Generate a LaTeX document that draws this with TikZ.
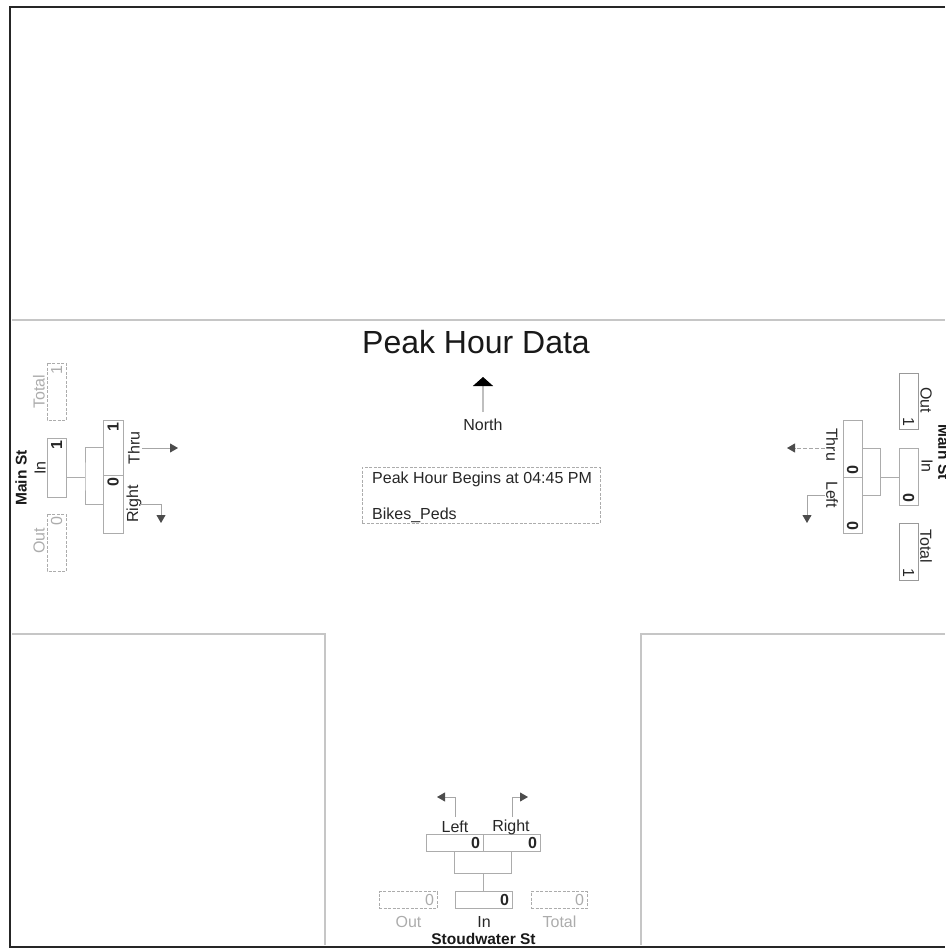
\documentclass[tikz,border=0pt]{standalone}
\usepackage{fontspec}
\setmainfont{Liberation Sans}
\usetikzlibrary{arrows.meta}
\begin{document}
\begin{tikzpicture}[x=1pt,y=-1pt,
  txt/.style={inner sep=0pt, font=\fontsize{16}{19}\selectfont, text=black!85},
  gtxt/.style={txt, text=gray!65},
  bname/.style={inner sep=0pt, font=\fontsize{15.5}{18}\selectfont\bfseries, text=black!90},
  vbox/.style={draw=gray!65, line width=0.8pt, inner xsep=3pt, inner ysep=0pt, minimum height=19pt, align=right, font=\fontsize{16}{19}\selectfont\bfseries, text=black!85},
  sbox/.style={vbox, draw=gray!80, font=\fontsize{16}{19}\selectfont},
  dbox/.style={vbox, dash pattern=on 3pt off 1.5pt, font=\fontsize{16}{19}\selectfont, text=gray!65},
  link/.style={draw=gray!65, line width=0.8pt},
  road/.style={draw=gray!45, line width=1.6pt},
  mv/.style={draw=gray!70, line width=0.8pt, -{Triangle[width=9pt,length=8pt,color=black!70]}}
]
\path[use as bounding box] (0,0) rectangle (945,949);
% roads
\draw[road] (12,320) -- (945,320);
\draw[road] (12,634) -- (325,634) -- (325,945);
\draw[road] (945,634) -- (641,634) -- (641,945);
% frame
\draw[line width=2.6pt, black!85] (945,7) -- (10,7) -- (10,947) -- (945,947);

% ---------- title, north, info ----------
\node[inner sep=0pt, font=\fontsize{32}{38}\selectfont, text=black!90] (title) at (476,342) {Peak Hour Data};
\coordinate (nfoot) at (483,412);
\coordinate (ntip) at (483,377);
\draw[draw=gray!50, line width=1.2pt, -{Triangle[width=20pt,length=9pt,color=black]}] (nfoot) -- (ntip);
\node[txt] (north) at (483,425) {North};
\node[draw=gray!65, dash pattern=on 3pt off 1.5pt, line width=0.7pt, minimum width=238pt, minimum height=56pt, inner sep=0pt] (info) at (481,495) {};
\node[txt, anchor=west] (begins) at (372,479) {Peak Hour Begins at 04:45 PM};
\node[txt, anchor=west] (bikes) at (372,515) {Bikes\_Peds};

% ---------- west approach (Main St, left) ----------
\node[dbox, rotate=90, text width=51pt] (LTot) at (56.5,391.5) {1};
\node[gtxt, rotate=90] (LTotL) at (39,392) {Total};
\node[vbox, rotate=90, text width=53pt] (LIn) at (56.5,467.5) {1};
\node[txt, rotate=90] (LInL) at (40,468) {In};
\node[bname, rotate=90] (LName) at (21,478) {Main St};
\node[dbox, rotate=90, text width=51pt] (LOut) at (56.5,542.5) {0};
\node[gtxt, rotate=90] (LOutL) at (39,541) {Out};
\node[vbox, rotate=90, text width=49pt, minimum height=20pt] (LThru) at (113,447.5) {1};
\node[vbox, rotate=90, text width=52pt, minimum height=20pt] (LRight) at (113,504) {0};
\node[txt, rotate=90] (LThruL) at (134,448) {Thru};
\node[txt, rotate=90] (LRightL) at (134,504) {Right};
\coordinate (Lj) at (85,477);
\draw[link] (LIn.south |- Lj) -- (Lj);
\draw[link] (LThru.north) -| (Lj) |- (LRight.north);
\coordinate (LThruEnd) at (178,448);
\draw[mv] (142,448) -- (LThruEnd);
\coordinate (LRightEnd) at (161,523);
\draw[mv] (140,504) -| (LRightEnd);

% ---------- east approach (Main St, right) ----------
\node[sbox, rotate=-90, text width=50pt] (ROut) at (908.5,401) {1};
\node[txt, rotate=-90] (ROutL) at (926,400) {Out};
\node[vbox, rotate=-90, text width=51pt] (RIn) at (908.5,476.5) {0};
\node[txt, rotate=-90] (RInL) at (927,466) {In};
\node[bname, rotate=-90] (RName) at (944,452) {Main St};
\node[sbox, rotate=-90, text width=51pt] (RTot) at (908.5,551.5) {1};
\node[txt, rotate=-90] (RTotL) at (926,546) {Total};
\node[vbox, rotate=-90, text width=51pt] (RThru) at (852.5,448.5) {0};
\node[vbox, rotate=-90, text width=50pt] (RLeft) at (852.5,505) {0};
\node[txt, rotate=-90] (RThruL) at (832,444.5) {Thru};
\node[txt, rotate=-90] (RLeftL) at (832,494.5) {Left};
\coordinate (Rj) at (880,477);
\coordinate (Rt) at (880,448.5);
\coordinate (Rb) at (880,495);
\draw[link] (Rj) -- (RIn.south |- Rj);
\draw[link] (RThru.north) -- (Rt) -- (Rb) -- (RLeft.north |- Rb);
\coordinate (RThruEnd) at (787,448);
\draw[mv, dash pattern=on 4pt off 2pt] (825,448) -- (RThruEnd);
\coordinate (RLeftEnd) at (807,523);
\draw[mv] (825,495) -| (RLeftEnd);

% ---------- south approach (Stoudwater St) ----------
\node[vbox, text width=51pt, minimum height=17pt] (BLeft) at (454.5,843) {0};
\node[vbox, text width=51pt, minimum height=17pt] (BRight) at (511.5,843) {0};
\node[txt] (BLeftL) at (455,827) {Left};
\node[txt] (BRightL) at (511,827) {Right};
\node[dbox, text width=52pt, minimum height=17pt] (BOut) at (408,900) {0};
\node[vbox, text width=51pt, minimum height=17pt] (BIn) at (483.5,900) {0};
\node[dbox, text width=50pt, minimum height=17pt] (BTot) at (559,900) {0};
\node[gtxt] (BOutL) at (408.5,922) {Out};
\node[txt] (BInL) at (484,922) {In};
\node[gtxt] (BTotL) at (559.5,922) {Total};
\node[bname] (BName) at (483.5,939) {Stoudwater St};
\coordinate (Bj) at (483.5,873);
\draw[link] (BLeft.south) |- (Bj) -| (BRight.south);
\draw[link] (Bj) -- (BIn.north);
\coordinate (BLeftEnd) at (437,797);
\draw[mv] (455,817) |- (BLeftEnd);
\coordinate (BRightEnd) at (528,797);
\draw[mv] (512,817) |- (BRightEnd);
% redraw bottom frame over street name
\draw[line width=2.6pt, black!85] (10,947) -- (945,947);
\end{tikzpicture}
\end{document}
